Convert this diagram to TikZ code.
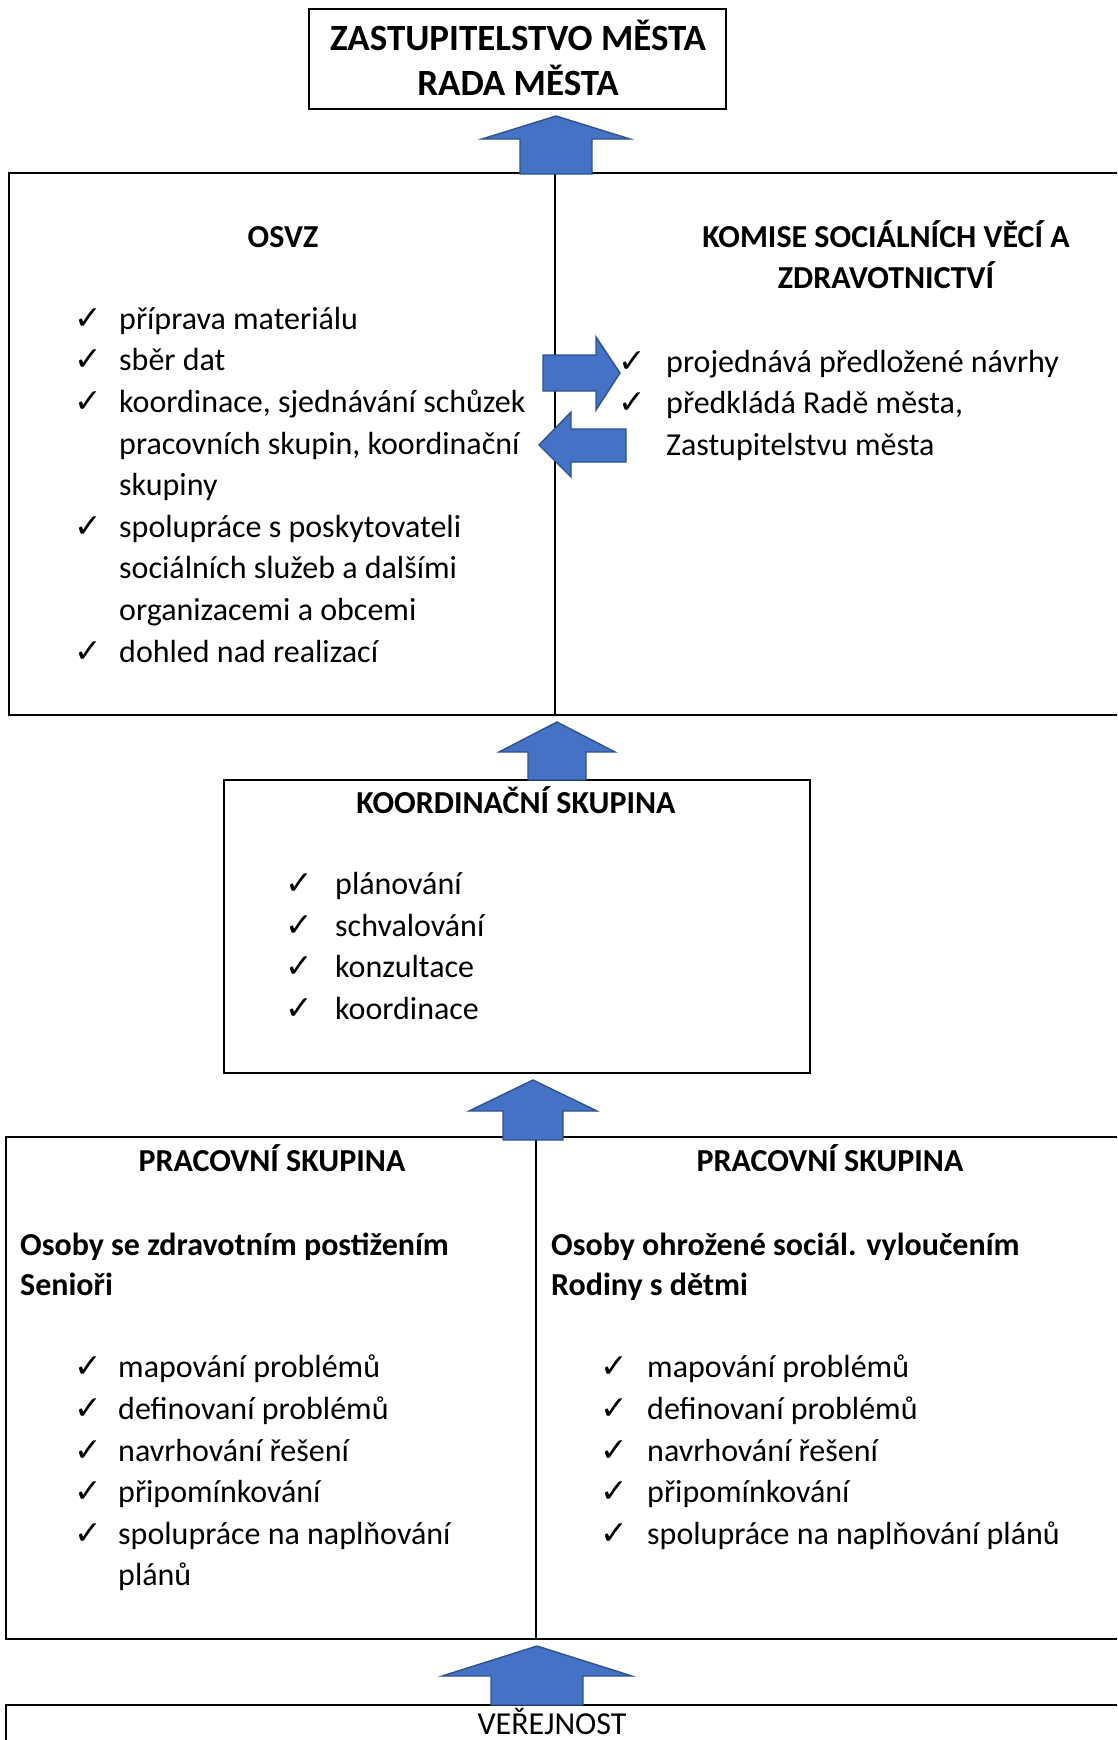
\documentclass[tikz,border=0pt]{standalone}
\usepackage{fontspec}
\setmainfont{Carlito}
\newfontfamily\checkfont{DejaVu Sans}
\definecolor{arrowfill}{HTML}{4472C4}
\definecolor{arrowedge}{HTML}{2F528F}
\tikzset{
  frame/.style={draw=black, line width=2.2pt},
  divider/.style={draw=black, line width=1.3pt},
  blockarrow/.style={fill=arrowfill, draw=arrowedge, line width=1.4pt, line join=miter},
  body/.style={inner sep=0pt, anchor=base west, font=\fontsize{32}{40}\selectfont},
  bodyb/.style={inner sep=0pt, anchor=base west, font=\bfseries\fontsize{32}{40}\selectfont},
  heading/.style={inner sep=0pt, anchor=base, font=\bfseries\fontsize{32}{40}\selectfont},
  bigtitle/.style={inner sep=0pt, anchor=base, font=\bfseries\fontsize{37}{44}\selectfont},
  chk/.style={inner sep=0pt, anchor=base west, font=\checkfont\fontsize{33}{36}\selectfont},
}
% up block arrow: #1 centre x, #2 tip y, #3 head base y, #4 bottom y, #5 head half width, #6 shaft half width
\newcommand{\uparrowblock}[6]{%
  \draw[blockarrow] (#1,#2) -- (#1+#5,#3) -- (#1+#6,#3) -- (#1+#6,#4) -- (#1-#6,#4) -- (#1-#6,#3) -- (#1-#5,#3) -- cycle;}
\begin{document}
\begin{tikzpicture}[x=1pt,y=-1pt]
\useasboundingbox (0,0) rectangle (1117,1740);
\clip (0,0) rectangle (1117,1740);

% ---------- top box ----------
\coordinate (topNW) at (309,9);
\coordinate (topSE) at (726,109);
\draw[frame] (topNW) rectangle (topSE);
\node[bigtitle] (zast) at (518,50) {ZASTUPITELSTVO MĚSTA};
\node[bigtitle] (rada) at (518,95) {RADA MĚSTA};

% ---------- OSVZ / Komise box ----------
\coordinate (midNW) at (9,173);
\coordinate (midSE) at (1130,715);
\coordinate (divTop) at (555,173);
\coordinate (divBot) at (555,715);
\draw[frame] (midNW) rectangle (midSE);
\draw[divider] (divTop) -- (divBot);

\node[heading] (osvz) at (283,247) {OSVZ};
\node[heading] (kom1) at (886,247) {KOMISE SOCIÁLNÍCH VĚCÍ A};
\node[heading] (kom2) at (886,288) {ZDRAVOTNICTVÍ};

\node[chk] (oc1) at (74,329) {✓};
\node[body] (o1) at (119,329) {příprava materiálu};
\node[chk] (oc2) at (74,370) {✓};
\node[body] (o2) at (119,370) {sběr dat};
\node[chk] (oc3) at (74,412) {✓};
\node[body] (o3a) at (119,412) {koordinace, sjednávání schůzek};
\node[body] (o3b) at (119,454) {pracovních skupin, koordinační};
\node[body] (o3c) at (119,495) {skupiny};
\node[chk] (oc4) at (74,537) {✓};
\node[body] (o4a) at (119,537) {spolupráce s poskytovateli};
\node[body] (o4b) at (119,578) {sociálních služeb a dalšími};
\node[body] (o4c) at (119,620) {organizacemi a obcemi};
\node[chk] (oc5) at (74,662) {✓};
\node[body] (o5) at (119,662) {dohled nad realizací};

\node[chk] (kc1) at (618,372) {✓};
\node[body] (k1) at (666,372) {projednává předložené návrhy};
\node[chk] (kc2) at (618,413) {✓};
\node[body] (k2a) at (666,413) {předkládá Radě města,};
\node[body] (k2b) at (666,455) {Zastupitelstvu města};

% ---------- koordinační skupina ----------
\coordinate (koNW) at (224,780);
\coordinate (koSE) at (810,1073);
\draw[frame] (koNW) rectangle (koSE);
\node[heading] (kotitle) at (516,813) {KOORDINAČNÍ SKUPINA};
\node[chk] (kk1) at (285,894) {✓};
\node[body] (ki1) at (335,894) {plánování};
\node[chk] (kk2) at (285,936) {✓};
\node[body] (ki2) at (335,936) {schvalování};
\node[chk] (kk3) at (285,977) {✓};
\node[body] (ki3) at (335,977) {konzultace};
\node[chk] (kk4) at (285,1019) {✓};
\node[body] (ki4) at (335,1019) {koordinace};

% ---------- pracovní skupiny ----------
\coordinate (prNW) at (6,1137);
\coordinate (prSE) at (1130,1639);
\coordinate (pdTop) at (536,1137);
\coordinate (pdBot) at (536,1639);
\draw[frame] (prNW) rectangle (prSE);
\draw[divider] (pdTop) -- (pdBot);

\node[heading] (pt1) at (272,1171) {PRACOVNÍ SKUPINA};
\node[heading] (pt2) at (830,1171) {PRACOVNÍ SKUPINA};
\node[bodyb] (pl1) at (20,1255) {Osoby se zdravotním postižením};
\node[bodyb] (pl2) at (20,1295) {Senioři};
\node[bodyb] (pr1) at (551,1255) {Osoby ohrožené sociál. vyloučením};
\node[bodyb] (pr2) at (551,1295) {Rodiny s dětmi};

\node[chk] (lc1) at (74,1377) {✓};
\node[body] (l1) at (118,1377) {mapování problémů};
\node[chk] (lc2) at (74,1419) {✓};
\node[body] (l2) at (118,1419) {definovaní problémů};
\node[chk] (lc3) at (74,1461) {✓};
\node[body] (l3) at (118,1461) {navrhování řešení};
\node[chk] (lc4) at (74,1502) {✓};
\node[body] (l4) at (118,1502) {připomínkování};
\node[chk] (lc5) at (74,1544) {✓};
\node[body] (l5a) at (118,1544) {spolupráce na naplňování};
\node[body] (l5b) at (118,1585) {plánů};

\node[chk] (rc1) at (600,1377) {✓};
\node[body] (r1) at (647,1377) {mapování problémů};
\node[chk] (rc2) at (600,1419) {✓};
\node[body] (r2) at (647,1419) {definovaní problémů};
\node[chk] (rc3) at (600,1461) {✓};
\node[body] (r3) at (647,1461) {navrhování řešení};
\node[chk] (rc4) at (600,1502) {✓};
\node[body] (r4) at (647,1502) {připomínkování};
\node[chk] (rc5) at (600,1544) {✓};
\node[body] (r5) at (647,1544) {spolupráce na naplňování plánů};

% ---------- veřejnost ----------
\coordinate (veNW) at (6,1705);
\coordinate (veSE) at (1130,1790);
\draw[frame] (veNW) rectangle (veSE);
\node[inner sep=0pt, anchor=base, font=\fontsize{32}{40}\selectfont] (ver) at (552,1734) {VEŘEJNOST};

% ---------- block arrows ----------
\uparrowblock{556}{116}{139}{174}{74}{36}
\uparrowblock{557}{722}{752}{780}{58}{29}
\uparrowblock{533}{1080}{1111}{1140}{64}{30}
\uparrowblock{537}{1646}{1676}{1705}{95}{46}

% right arrow (OSVZ -> Komise)
\draw[blockarrow] (620,373) -- (596,337) -- (596,355) -- (543,355) -- (543,391) -- (596,391) -- (596,410) -- cycle;
% left arrow (Komise -> OSVZ)
\draw[blockarrow] (539,445) -- (571,412) -- (571,429) -- (626,429) -- (626,462) -- (571,462) -- (571,477) -- cycle;
\end{tikzpicture}
\end{document}
